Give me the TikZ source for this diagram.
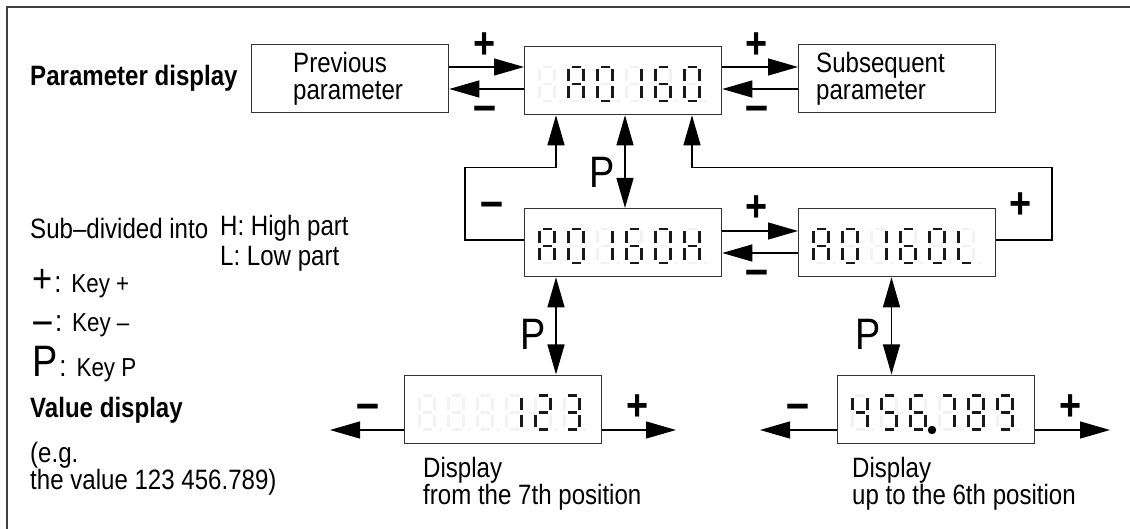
\documentclass[tikz,border=0pt]{standalone}
\usepackage{graphicx}
\usepackage{fontspec}
\setmainfont{Liberation Sans}[FakeStretch=0.86]
\usetikzlibrary{arrows.meta}
\def\dsega{(3,0)--(12,0)}
\def\dsegb{(15,2.5)--(15,14.5)}
\def\dsegc{(15,19.5)--(15,31.5)}
\def\dsegd{(3,34)--(12,34)}
\def\dsege{(0,19.5)--(0,31.5)}
\def\dsegf{(0,2.5)--(0,14.5)}
\def\dsegg{(3,17)--(12,17)}
\def\dsegn{(0,0)}
\newcommand\segdigit[3]{%
  \begin{scope}[shift={(#1,#2)}]
    \foreach \s in {a,b,c,d,e,f,g}{\edef\tmp{\noexpand\draw[segoff] \csname dseg\s\endcsname;}\tmp}
    \fill[black!5] (21,34) circle (1.6pt);
    \foreach \s in {#3}{\edef\tmp{\noexpand\draw[segon] \csname dseg\s\endcsname;}\tmp}
  \end{scope}}
\newcommand\sevdisp[8]{%
  \segdigit{#1+15.5}{#2+21}{#3}%
  \segdigit{#1+44.5}{#2+21}{#4}%
  \segdigit{#1+73.5}{#2+21}{#5}%
  \segdigit{#1+102.5}{#2+21}{#6}%
  \segdigit{#1+131.5}{#2+21}{#7}%
  \segdigit{#1+160.5}{#2+21}{#8}}
\newcommand\keyrow[2]{#1\hspace{2pt}{\fontsize{30}{30}\selectfont :}\hspace{10pt}{\fontsize{26}{26}\selectfont Key #2}}
\begin{document}
\begin{tikzpicture}[x=1pt,y=-1pt,
  box/.style={draw=black!80, line width=1.3pt, minimum width=197pt, minimum height=68pt, inner sep=0pt, anchor=north west},
  arr/.style={-{Triangle[length=30pt,width=17pt]}, line width=1.3pt},
  dbl/.style={{Triangle[length=30pt,width=17pt]}-{Triangle[length=30pt,width=17pt]}, line width=1.3pt},
  txt/.style={font=\fontsize{28}{27}\selectfont, inner sep=0pt, anchor=west, align=left},
  btxt/.style={font=\bfseries\fontsize{28}{32}\selectfont, inner sep=0pt, anchor=west},
  sym/.style={font=\bfseries\fontsize{44}{44}\selectfont, inner sep=0pt, anchor=base},
  msym/.style={sym, font=\bfseries\fontsize{48}{48}\selectfont},
  plab/.style={font=\fontsize{44}{44}\selectfont, inner sep=0pt},
  segon/.style={line width=2.4pt, black!90},
  segoff/.style={line width=2.4pt, black!5}]
\useasboundingbox (0,0) rectangle (1130,529);
\fill[white] (0,0) rectangle (1130,529);
\draw[line width=1.5pt, black!75] (7,529) -- (7,7) -- (1130,7);

% boxes
\node[box] (prev) at (251,44) {};
\node[box] (main) at (524,46) {};
\node[box] (subs) at (798,44) {};
\node[box] (H) at (524,208) {};
\node[box] (L) at (798,208) {};
\node[box] (V1) at (404,374.5) {};
\node[box] (V2) at (837,374.5) {};

% seven segment contents
\sevdisp{524}{46}{n}{a,b,c,e,f,g}{a,b,c,d,e,f}{b,c}{a,c,d,e,f,g}{a,b,c,d,e,f}
\sevdisp{524}{208}{a,b,c,e,f,g}{a,b,c,d,e,f}{b,c}{a,c,d,e,f,g}{a,b,c,d,e,f}{b,c,e,f,g}
\sevdisp{798}{208}{a,b,c,e,f,g}{a,b,c,d,e,f}{b,c}{a,c,d,e,f,g}{a,b,c,d,e,f}{d,e,f}
\sevdisp{404}{374.5}{n}{n}{n}{b,c}{a,b,d,e,g}{a,b,c,d,g}
\sevdisp{837}{374.5}{b,c,f,g}{a,c,d,f,g}{a,c,d,e,f,g}{a,b,c}{a,b,c,d,e,f,g}{a,b,c,d,f,g}
\fill[black] (932,430) circle (4.2pt);

% texts
\node[btxt] (pd) at (30,78) {Parameter display};
\node[txt] (pv) at (293,79) {Previous\\parameter};
\node[txt] (sb) at (816,79) {Subsequent\\parameter};
\node[txt] (sd) at (30,228.5) {Sub–divided into};
\node[txt, font=\fontsize{28}{29.5}\selectfont] (hl) at (220,243.5) {H: High part\\L: Low part};
\node[inner sep=0pt, anchor=base west, align=left, font=\fontsize{26}{39}\selectfont] (keys) at (32,377)
  {\keyrow{{\fontsize{40}{40}\selectfont +}}{+}\\
   \keyrow{\scalebox{1.45}[1]{\bfseries\fontsize{30}{30}\selectfont –}}{–}\\[7pt]
   \keyrow{{\fontsize{44}{44}\selectfont P}}{P}};
\node[btxt] (vd) at (30,410) {Value display};
\node[txt] (eg) at (30,469) {(e.g.\\the value 123 456.789)};
\node[txt] (ca) at (423,484) {Display\\from the 7th position};
\node[txt] (cb) at (852,484) {Display\\up to the 6th position};

% helper coordinates
\coordinate (ya) at (0,67);
\coordinate (yb) at (0,89);
\coordinate (yc) at (0,231);
\coordinate (yd) at (0,253);
\coordinate (yl) at (0,240);
\coordinate (yq) at (0,167.5);
\coordinate (ye) at (0,430);
\coordinate (x1) at (556,0);
\coordinate (x2) at (625,0);
\coordinate (x3) at (692,0);
\coordinate (x4) at (891.5,0);
\coordinate (xl) at (465,0);
\coordinate (xr) at (1052,0);
\coordinate (e1) at (330,430);
\coordinate (e2) at (676,430);
\coordinate (e3) at (760,430);
\coordinate (e4) at (1110,430);

% connectors
\draw[arr] (prev.east |- ya) -- (main.west |- ya);
\draw[arr] (main.west |- yb) -- (prev.east |- yb);
\draw[arr] (main.east |- ya) -- (subs.west |- ya);
\draw[arr] (subs.west |- yb) -- (main.east |- yb);
\draw[arr] (H.east |- yc) -- (L.west |- yc);
\draw[arr] (L.west |- yd) -- (H.east |- yd);
\draw[arr] (H.west |- yl) -| (xl |- yq) -| (x1 |- main.south);
\draw[arr] (L.east |- yl) -| (xr |- yq) -| (x3 |- main.south);
\draw[dbl] (x2 |- main.south) -- (x2 |- H.north);
\draw[dbl] (x1 |- H.south) -- (x1 |- V1.north);
\draw[dbl] (x4 |- L.south) -- (x4 |- V2.north);
\draw[arr] (V1.west |- ye) -- (e1);
\draw[arr] (V1.east |- ye) -- (e2);
\draw[arr] (V2.west |- ye) -- (e3);
\draw[arr] (V2.east |- ye) -- (e4);

% key labels (anchor = base)
\node[sym] (p1) at (485,59) {+};
\node[msym] (m1) at (485,122) {–};
\node[sym] (p2) at (757,59) {+};
\node[msym] (m2) at (757,122) {–};
\node[sym] (p3) at (757,221.5) {+};
\node[msym] (m3) at (757,285.6) {–};
\node[msym] (m4) at (492,217.5) {–};
\node[sym] (p4) at (1021,218.5) {+};
\node[msym] (m5) at (367.5,419.5) {–};
\node[sym] (p5) at (638,420) {+};
\node[msym] (m6) at (798,419) {–};
\node[sym] (p6) at (1071,420) {+};
\node[plab] (P1) at (602,172) {P};
\node[plab] (P2) at (533,334) {P};
\node[plab] (P3) at (868,334) {P};
\end{tikzpicture}
\end{document}
